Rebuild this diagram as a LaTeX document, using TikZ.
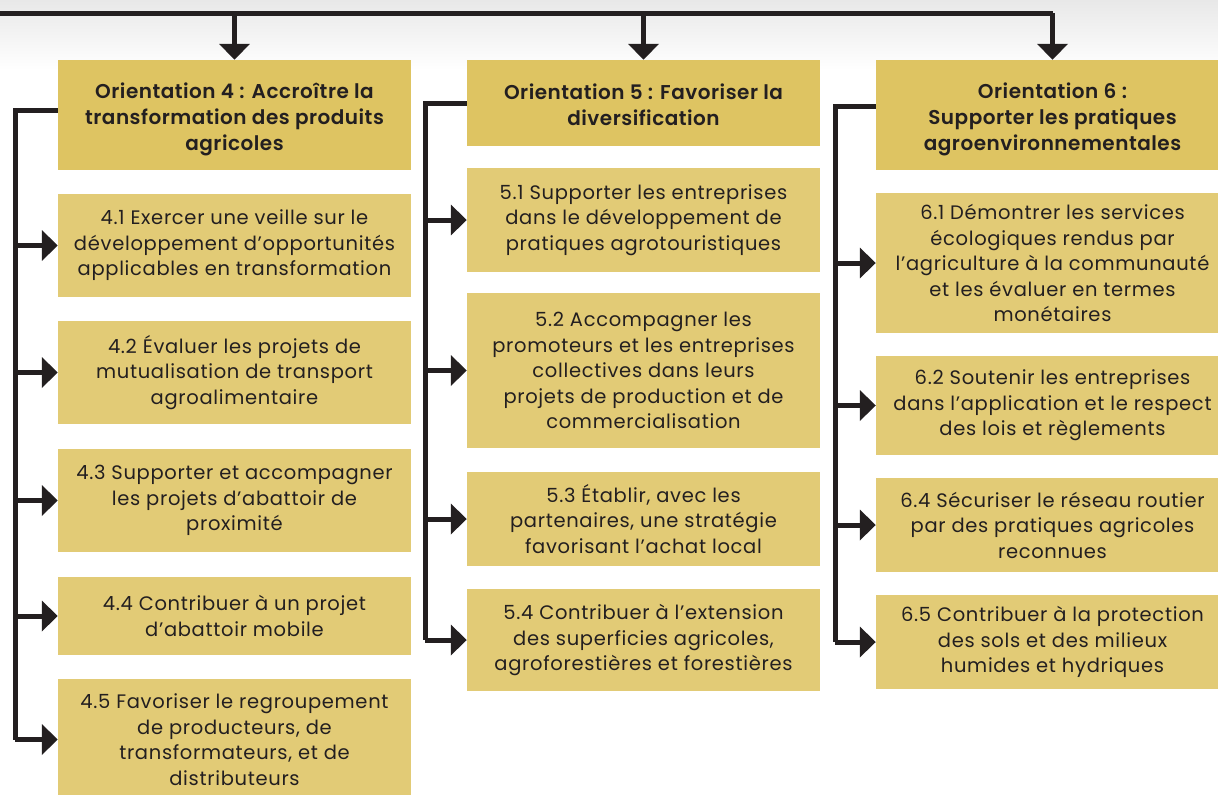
\documentclass[tikz,border=0pt]{standalone}
\usepackage{fontspec}
\setmainfont{Poppins}[LetterSpace=3.5]
\newfontfamily\hdrfont{Poppins SemiBold}[LetterSpace=2.5]
\usetikzlibrary{arrows.meta}
\definecolor{ink}{HTML}{231F20}
\definecolor{hdrcol}{HTML}{DEC462}
\definecolor{itemcol}{HTML}{E2CB76}
\tikzset{
  hdr/.style={fill=hdrcol, text=ink, align=center, inner sep=0pt, minimum width=353pt,
    font=\hdrfont\fontsize{20}{26}\selectfont},
  item/.style={fill=itemcol, text=ink, align=center, inner sep=0pt, minimum width=353pt,
    font=\fontsize{19.5}{25.5}\selectfont},
  conn/.style={draw=ink, line width=5pt},
  arr/.style={conn, -{Triangle[length=16pt,width=30pt]}},
}
\begin{document}
\begin{tikzpicture}[x=1pt,y=-1pt]
\useasboundingbox (0,0) rectangle (1218,795);
\shade[top color=black!9, bottom color=white] (0,0) rectangle (1218,70);
\begin{scope}
\clip (0,0) rectangle (1218,795);
% headers
\node[hdr, minimum height=110pt, text height=76.5pt] (h4) at (234.5,115) {Orientation 4 : Accroître la\\transformation des produits\\agricoles};
\node[hdr, minimum height=86pt, text height=44.5pt] (h5) at (643.5,103) {Orientation 5 : Favoriser la\\diversification};
\node[hdr, minimum height=110pt, text height=76.5pt] (h6) at (1052.5,115) {Orientation 6 :\\Supporter les pratiques\\agroenvironnementales};
% column 4
\node[item, minimum height=103pt] (n41) at (234.5,245.5) {4.1 Exercer une veille sur le\\développement d’opportunités\\applicables en transformation};
\node[item, minimum height=103pt] (n42) at (234.5,372.5) {4.2 Évaluer les projets de\\mutualisation de transport\\agroalimentaire};
\node[item, minimum height=103pt] (n43) at (234.5,500.5) {4.3 Supporter et accompagner\\les projets d’abattoir de\\proximité};
\node[item, minimum height=78pt] (n44) at (234.5,616) {4.4 Contribuer à un projet\\d’abattoir mobile};
\node[item, minimum height=121pt] (n45) at (234.5,739.5) {4.5 Favoriser le regroupement\\de producteurs, de\\transformateurs, et de\\distributeurs};
% column 5
\node[item, minimum height=104pt] (n51) at (643.5,220) {5.1 Supporter les entreprises\\dans le développement de\\pratiques agrotouristiques};
\node[item, minimum height=155pt] (n52) at (643.5,370.5) {5.2 Accompagner les\\promoteurs et les entreprises\\collectives dans leurs\\projets de production et de\\commercialisation};
\node[item, minimum height=94pt] (n53) at (643.5,519) {5.3 Établir, avec les\\partenaires, une stratégie\\favorisant l’achat local};
\node[item, minimum height=102pt] (n54) at (643.5,640) {5.4 Contribuer à l’extension\\des superficies agricoles,\\agroforestières et forestières};
% column 6
\node[item, minimum height=140pt] (n61) at (1052.5,263) {6.1 Démontrer les services\\écologiques rendus par\\l’agriculture à la communauté\\et les évaluer en termes\\monétaires};
\node[item, minimum height=99pt] (n62) at (1052.5,405.5) {6.2 Soutenir les entreprises\\dans l’application et le respect\\des lois et règlements};
\node[item, minimum height=94pt] (n64) at (1052.5,525) {6.4 Sécuriser le réseau routier\\par des pratiques agricoles\\reconnues};
\node[item, minimum height=94pt] (n65) at (1052.5,642) {6.5 Contribuer à la protection\\des sols et des milieux\\humides et hydriques};
% top bus
\coordinate (topL) at (-5,13);
\coordinate (topR) at (1052.5,13);
\draw[conn] (topL) -- (topR);
\draw[arr] (topR) -- (h6.north);
\draw[arr] (h4.north|-topL) -- (h4.north);
\draw[arr] (h5.north|-topL) -- (h5.north);
% trunks
\coordinate (t4) at (15,110);
\coordinate (t5) at (425,103);
\coordinate (t6) at (835,106);
\draw[conn] (h4.west|-t4) -- (t4) -- (t4|-n45.west);
\draw[conn] (h5.west|-t5) -- (t5) -- (t5|-n54.west);
\draw[conn] (h6.west|-t6) -- (t6) -- (t6|-n65.west);
\foreach \n in {n41,n42,n43,n44,n45} \draw[arr] (t4|-\n.west) -- (\n.west);
\foreach \n in {n51,n52,n53,n54} \draw[arr] (t5|-\n.west) -- (\n.west);
\foreach \n in {n61,n62,n64,n65} \draw[arr] (t6|-\n.west) -- (\n.west);
\end{scope}
\end{tikzpicture}
\end{document}
